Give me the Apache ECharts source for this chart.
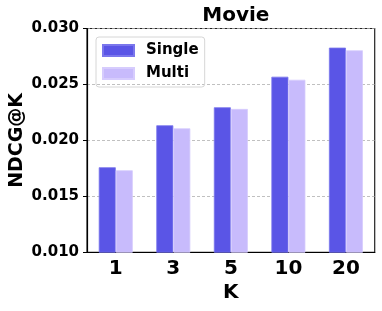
<!DOCTYPE html>
<html><head><meta charset="utf-8">
<script src="https://cdn.jsdelivr.net/npm/echarts@6/dist/echarts.min.js"></script>
<style>html,body{margin:0;padding:0;background:#fff}#c{width:382px;height:311px}</style>
</head><body><div id="c"></div>
<script>
const categories = ['1', '3', '5', '10', '20'];
const single = [0.0176, 0.02135, 0.02296, 0.02569, 0.02829];
const multi = [0.01733, 0.02108, 0.02281, 0.02542, 0.02805];
const yTicks = [0.010, 0.015, 0.020, 0.025, 0.030];

const F = 'DejaVu Sans';
const chart = echarts.init(document.getElementById('c'), null, {renderer: 'canvas'});
chart.setOption({
  animation: false,
  backgroundColor: '#fff',
  title: {
    text: 'Movie', left: 230.8, textAlign: 'center', top: 1,
    textStyle: {fontFamily: F, fontWeight: 'bold', fontSize: 20, color: '#000'}
  },
  legend: {
    orient: 'vertical', left: 96, top: 37,
    padding: [6, 6, 6, 6],
    icon: 'rect',
    itemWidth: 31, itemHeight: 11, itemGap: 8,
    borderColor: '#d6d6d6', borderWidth: 1, borderRadius: 3,
    textStyle: {fontFamily: F, fontWeight: 'bold', fontSize: 15, color: '#000', padding: [0, 0, 0, 7]},
    data: ['Single', 'Multi']
  },
  grid: {left: 87, right: 7.3, top: 28.5, bottom: 58.7, containLabel: false, outerBoundsMode: 'none',
    show: true, borderColor: '#222', borderWidth: 1.2},
  xAxis: {
    type: 'category', data: categories,
    name: 'K', nameLocation: 'middle', nameGap: 30, nameMoveOverlap: false,
    nameTextStyle: {fontFamily: F, fontWeight: 'bold', fontSize: 20, color: '#000'},
    axisLine: {lineStyle: {color: '#000', width: 1.2}},
    axisTick: {alignWithLabel: true, length: 4, lineStyle: {color: '#000'}},
    axisLabel: {fontFamily: F, fontWeight: 'bold', fontSize: 20, color: '#000', margin: 6}
  },
  yAxis: {
    type: 'value', min: yTicks[0], max: yTicks[yTicks.length - 1], interval: 0.005,
    name: 'NDCG@K', nameLocation: 'middle', nameGap: 60, nameMoveOverlap: false,
    nameTextStyle: {fontFamily: F, fontWeight: 'bold', fontSize: 19, color: '#000'},
    axisLine: {show: true, lineStyle: {color: '#000', width: 1.2}},
    axisTick: {show: true, length: 4, lineStyle: {color: '#000'}},
    axisLabel: {fontFamily: F, fontWeight: 'bold', fontSize: 15, color: '#000', margin: 8,
      formatter: v => v.toFixed(3)},
    splitLine: {show: true, lineStyle: {color: '#b0b0b0', type: [3, 2], width: 0.8}}
  },
  series: [
    {name: 'Single', type: 'bar', data: single, barWidth: 17, barGap: '0%',
      itemStyle: {color: '#5a55e6', borderColor: '#7a76ec', borderWidth: 0.8}},
    {name: 'Multi', type: 'bar', data: multi, barWidth: 17, barGap: '0%',
      itemStyle: {color: '#c8bbfc', borderColor: '#d6ccfd', borderWidth: 0.8}}
  ]
});
</script></body></html>
